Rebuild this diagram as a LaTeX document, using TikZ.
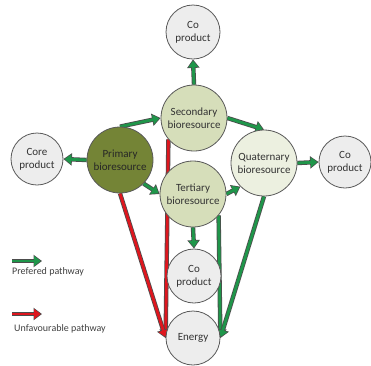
\documentclass[tikz,border=0pt]{standalone}
\usepackage{fontspec}
\setmainfont{Carlito}
\usetikzlibrary{arrows.meta,backgrounds}

\definecolor{pathgreen}{RGB}{31,150,74}
\definecolor{pathred}{RGB}{222,22,30}
\definecolor{primfill}{RGB}{116,132,54}
\definecolor{biofill}{RGB}{214,222,186}
\definecolor{quatfill}{RGB}{236,240,224}
\definecolor{prodfill}{RGB}{237,237,237}

\tikzset{
    res/.style={circle, draw=black!65, line width=0.8pt, inner sep=0pt, align=center,
        text=black!80, font=\fontsize{11}{13}\selectfont},
    product/.style={res, minimum size=54pt, fill=prodfill},
    bio/.style={res, minimum size=66pt, fill=biofill},
    way/.style={line width=2.8pt, -{Triangle[length=6.5pt,width=9.5pt]}, shorten >=1.3pt,
        preaction={draw=black!70, line width=4.4pt, -{Triangle[length=8.5pt,width=12pt]}, shorten >=0pt}},
    goodway/.style={way, pathgreen},
    badway/.style={way, pathred},
    legend/.style={font=\fontsize{10}{12}\selectfont, text=black!75, inner sep=0pt, anchor=west}
}

\begin{document}
\begin{tikzpicture}[x=1pt, y=-1pt]

    \useasboundingbox (0, 0) rectangle (371, 365);

    % circles
    \node[product] (cotop) at (193, 32) {Co\\product};
    \node[bio] (second) at (194, 118) {Secondary\\bioresource};
    \node[bio, fill=primfill, text=black!85] (primary) at (120, 160) {Primary\\bioresource};
    \node[product, minimum size=52pt] (core) at (37, 159) {Core\\product};
    \node[bio, fill=quatfill] (quat) at (264, 163) {Quaternary\\bioresource};
    \node[product, minimum size=52pt] (coright) at (345, 162) {Co\\product};
    \node[bio] (tert) at (193, 194) {Tertiary\\bioresource};
    \node[product] (comid) at (194, 276) {Co\\product};
    \node[product] (energy) at (193, 338) {Energy};

    % pathways
    \begin{scope}[on background layer]
        \draw[goodway] (primary.west) -- (core.east);
        \draw[goodway] (second.north) -- (cotop.south);
        \draw[goodway] (primary.north) -- (second.west);
        \draw[goodway] (second.east) -- (quat.north);
        \draw[goodway] (primary.-45) -- (tert.west);
        \draw[goodway] (tert.east) -- (quat.225);
        \draw[goodway] (quat.east) -- (coright.west);
        \draw[goodway] (tert.south) -- (comid.north);
        \draw[badway] (second.220) -- (energy.west);
        \draw[badway] (primary.south) -- (energy.west);
        \draw[goodway] (tert.-40) -- (energy.east);
        \draw[goodway] (quat.south) -- (energy.east);
    \end{scope}

    % legend
    \coordinate (goodA) at (12, 261);
    \coordinate (goodB) at (42, 261);
    \coordinate (badA) at (12, 314);
    \coordinate (badB) at (42, 314);

    \draw[goodway] (goodA) -- (goodB);
    \node[legend] (goodtext) at (12, 272) {Prefered pathway};
    \draw[badway] (badA) -- (badB);
    \node[legend] (badtext) at (14, 329) {Unfavourable pathway};

\end{tikzpicture}
\end{document}
